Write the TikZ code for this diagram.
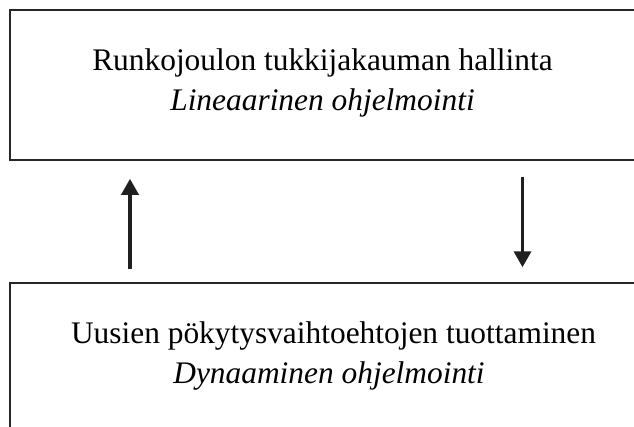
\documentclass[tikz,border=0pt]{standalone}
\usepackage{fontspec}
\setmainfont{Liberation Serif}
\usetikzlibrary{arrows.meta}
\begin{document}
\begin{tikzpicture}[x=1pt,y=-1pt,
  frame/.style={draw=black!85,line width=1.5pt,rectangle,inner sep=0pt},
  label/.style={anchor=base,inner sep=0pt,font=\fontsize{31.4}{36}\selectfont},
  flow/.style={draw=black!88,line width=3.6pt,-{Triangle[length=16pt,width=17pt]}}]
\useasboundingbox (0,0) rectangle (634,426);
\clip (0,0) rectangle (634,426);
% upper and lower panels (both run past the right border)
\node[frame,minimum width=630pt,minimum height=150pt] (upper) at (325,85) {};
\node[frame,minimum width=630pt,minimum height=300pt] (lower) at (325,433) {};
% panel texts
\node[label] (t1) at (322.5,70) {Runkojoulon tukkijakauman hallinta};
\node[label] (t2) at (322.5,110) {\itshape Lineaarinen ohjelmointi};
\node[label] (b1) at (333.5,343) {Uusien pökytysvaihtoehtojen tuottaminen};
\node[label] (b2) at (329,383) {\itshape Dynaaminen ohjelmointi};
% arrows between panels
\coordinate (upx) at (130,0);
\coordinate (downx) at (522.5,0);
\draw[flow,shorten <=13pt,shorten >=18pt] (lower.north -| upx) -- (upper.south -| upx);
\draw[flow,shorten <=16pt,shorten >=15pt] (upper.south -| downx) -- (lower.north -| downx);
\end{tikzpicture}
\end{document}
